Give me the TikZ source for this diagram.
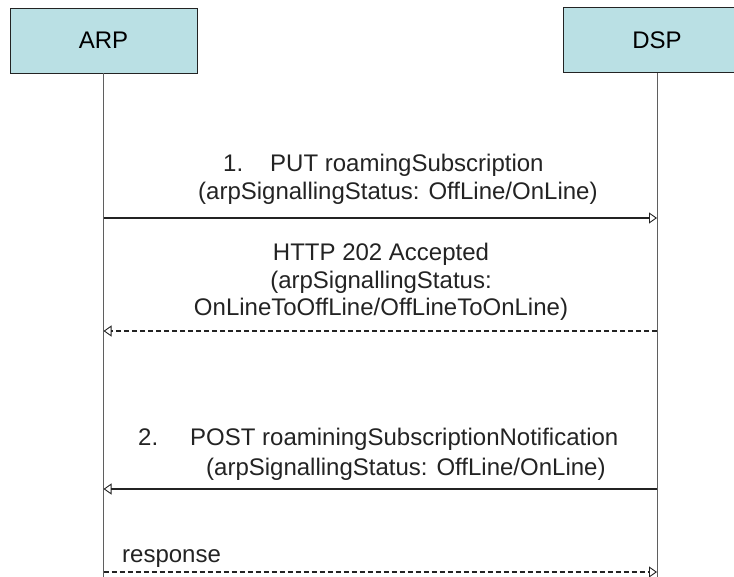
\documentclass[tikz,border=0pt]{standalone}
\usepackage{fontspec}
\setmainfont{Liberation Sans}
\usetikzlibrary{arrows.meta}
\definecolor{boxfill}{RGB}{186,224,228}
\definecolor{lifegray}{RGB}{95,95,95}
\definecolor{ink}{RGB}{35,35,35}
\begin{document}
\begin{tikzpicture}[x=1pt,y=-1pt,
  actor/.style={draw=ink, line width=0.9pt, fill=boxfill, minimum width=187pt, minimum height=65pt, inner sep=0pt, font=\fontsize{24}{28}\selectfont},
  life/.style={draw=lifegray, line width=1pt},
  msg/.style={draw=ink, line width=1.4pt, -{Triangle[open,length=8pt,width=11pt,line width=0.9pt]}},
  reply/.style={msg, dash pattern=on 5pt off 3pt},
  lbl/.style={inner sep=0pt, anchor=base west, font=\fontsize{24}{28}\selectfont, text=ink},
  clbl/.style={lbl, anchor=base}]
\useasboundingbox (0,0) rectangle (734,577);
\clip (0,0) rectangle (734,577);
% actors
\node[actor] (arp) at (103.5,40.5) {ARP};
\node[actor] (dsp) at (657,40) {DSP};
% lifelines
\coordinate (arpEnd) at (103.5,577);
\coordinate (dspEnd) at (657,577);
\draw[life] (arp.south) -- (arpEnd);
\draw[life] (dsp.south) -- (dspEnd);
% message points
\coordinate (a1) at (103.5,218); \coordinate (d1) at (657,218);
\coordinate (a2) at (103.5,331); \coordinate (d2) at (657,331);
\coordinate (a3) at (103.5,489); \coordinate (d3) at (657,489);
\coordinate (a4) at (103.5,572); \coordinate (d4) at (657,572);
\draw[msg] (a1) -- (d1);
\draw[reply] (d2) -- (a2);
\draw[msg] (d3) -- (a3);
\draw[reply] (a4) -- (d4);
% labels
\node[lbl] (n1) at (223,172) {1.};
\node[lbl] (m1) at (270,172) {PUT roamingSubscription};
\node[lbl] (m1b) at (198,200) {(arpSignallingStatus: OffLine/OnLine)};
\node[clbl] (r1) at (381,261) {HTTP 202 Accepted};
\node[clbl] (r1b) at (381,289) {(arpSignallingStatus:};
\node[clbl] (r1c) at (381,316) {OnLineToOffLine/OffLineToOnLine)};
\node[lbl] (n2) at (138,446) {2.};
\node[lbl] (m2) at (190,446) {POST roaminingSubscriptionNotification};
\node[lbl] (m2b) at (206,475) {(arpSignallingStatus: OffLine/OnLine)};
\node[lbl] (r2) at (122,562) {response};
\end{tikzpicture}
\end{document}
